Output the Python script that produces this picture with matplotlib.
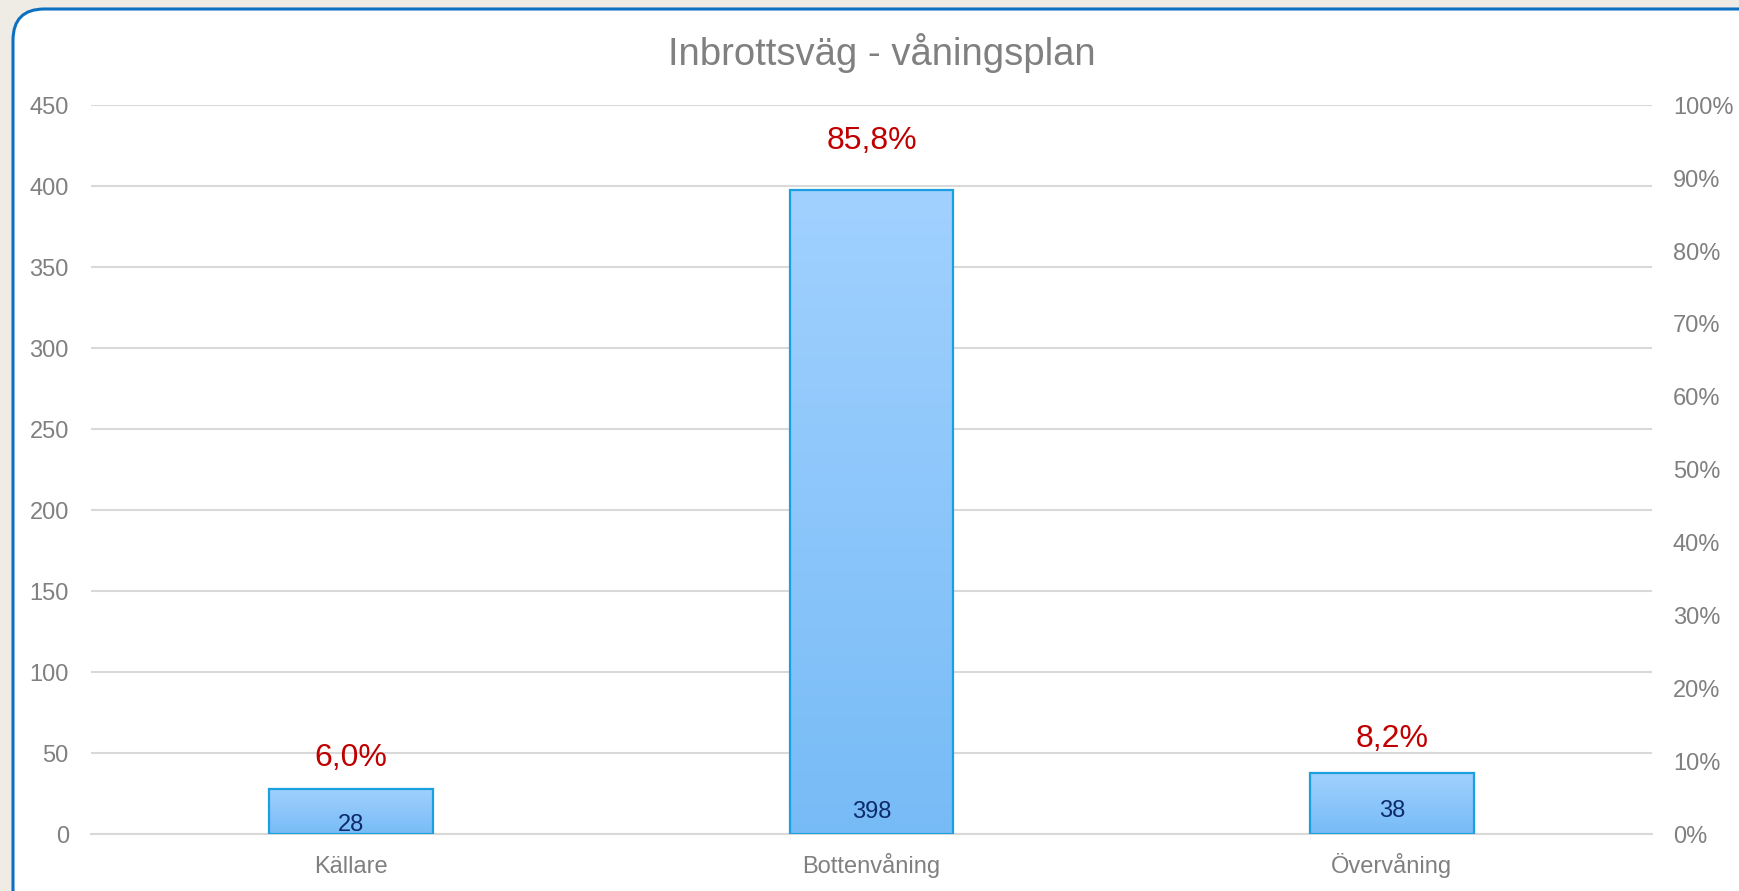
import numpy as np
import matplotlib.pyplot as plt
from matplotlib.colors import LinearSegmentedColormap
from matplotlib.patches import FancyBboxPatch

categories = ['Källare', 'Bottenvåning', 'Övervåning']
counts = [28, 398, 38]
pct_labels = ['6,0%', '85,8%', '8,2%']
left_ticks = [0, 50, 100, 150, 200, 250, 300, 350, 400, 450]
right_ticks = ['0%', '10%', '20%', '30%', '40%', '50%', '60%', '70%', '80%', '90%', '100%']

plt.rcParams['font.family'] = ['Liberation Sans', 'DejaVu Sans']

W, H = 1740, 891
fig = plt.figure(figsize=(W / 100, H / 100), dpi=100)
fig.patch.set_facecolor('#EFEBE5')

# rounded white panel with blue border (cut off at right/bottom)
panel = FancyBboxPatch((13 / W, -30 / H), 1790 / W, (882 + 30) / H,
                       boxstyle='round,pad=0,rounding_size=0.018',
                       transform=fig.transFigure, facecolor='white',
                       edgecolor='#0E70C0', linewidth=2.2, zorder=-10,
                       mutation_aspect=W / H)
fig.patches.append(panel)

ax_left, ax_right = 91 / W, 1652 / W
ax_bottom, ax_top = (H - 834.3) / H, (H - 105.3) / H
ax = fig.add_axes([ax_left, ax_bottom, ax_right - ax_left, ax_top - ax_bottom])
ax.set_facecolor('none')

x = np.arange(len(categories))
width = 0.314
grad = LinearSegmentedColormap.from_list('bar', ['#77BBF6', '#A1D1FF'])
g = np.linspace(0, 1, 256).reshape(-1, 1)
for xi, c in zip(x, counts):
    ax.imshow(g, cmap=grad, origin='lower', aspect='auto', zorder=2,
              extent=[xi - width / 2, xi + width / 2, 0, c])
ax.bar(x, counts, width=width, facecolor='none', edgecolor='#1AA0E0',
       linewidth=1.6, zorder=3)

ax.set_xlim(-0.5, 2.5)
ax.set_ylim(0, 450)
ax.set_yticks(left_ticks)
ax.grid(axis='y', color='#D9D9D9', linewidth=1.5, zorder=1)
ax.set_axisbelow(True)
for s in ['top', 'right', 'left']:
    ax.spines[s].set_visible(False)
ax.spines['bottom'].set_color('#D9D9D9')
ax.spines['bottom'].set_linewidth(1.5)
ax.set_xticks(x)
ax.set_xticklabels(categories)
ax.tick_params(axis='both', length=0, labelsize=17, labelcolor='#808080')
ax.tick_params(axis='y', pad=16)
ax.tick_params(axis='x', pad=28)
for lbl in ax.get_xticklabels():
    lbl.set_va('baseline')

ax2 = ax.twinx()
ax2.set_ylim(0, 1)
ax2.set_yticks(np.linspace(0, 1, len(right_ticks)))
ax2.set_yticklabels(right_ticks)
ax2.tick_params(axis='y', length=0, labelsize=17, labelcolor='#808080', pad=15)
for s in ax2.spines.values():
    s.set_visible(False)

# value labels
pct_offsets = [22, 35, 24]
count_offsets = [6.5, 16, 17]
for xi, c, p, po, co in zip(x, counts, pct_labels, pct_offsets, count_offsets):
    ax.annotate(p, (xi, c), xytext=(0, po), textcoords='offset points',
                ha='center', va='center', fontsize=23, color='#C00000', zorder=5)
    ax.annotate(str(c), (xi, 0), xytext=(0, co), textcoords='offset points',
                ha='center', va='center', fontsize=17, color='#0D2B6B', zorder=5)

fig.text(882 / W, 1 - 53 / H, 'Inbrottsväg - våningsplan', ha='center',
         va='center', fontsize=27.5, color='#808080')

fig.savefig('out.png', dpi=100, facecolor=fig.get_facecolor())
